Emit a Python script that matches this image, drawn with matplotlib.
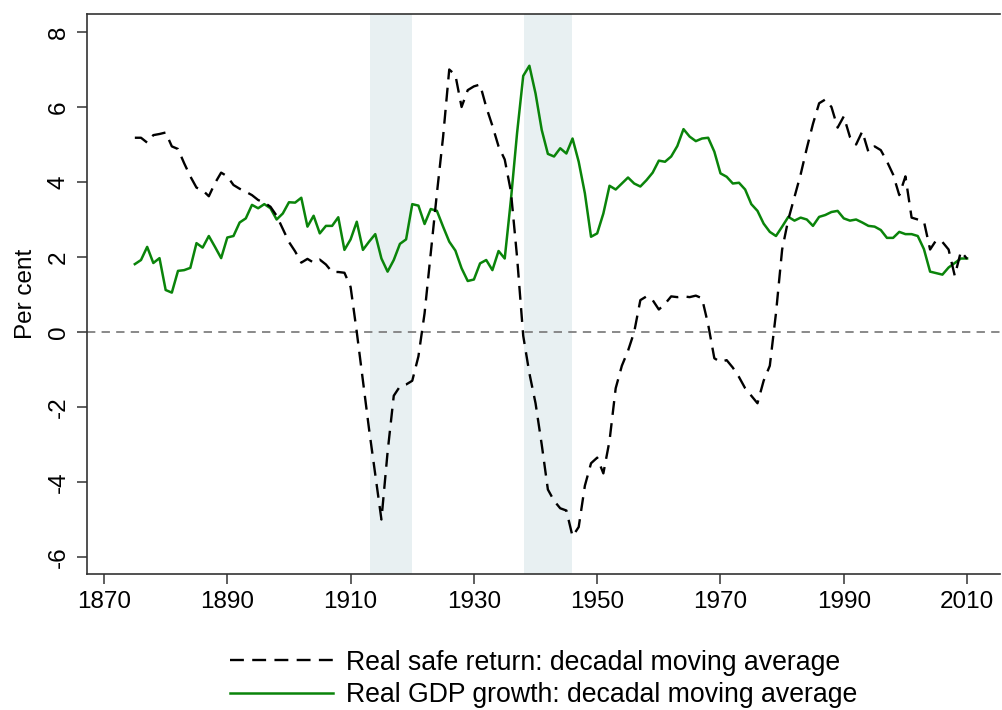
import matplotlib
matplotlib.use('Agg')
from matplotlib import pyplot as plt
import numpy as np

plt.rcParams['font.family'] = ['Liberation Sans', 'DejaVu Sans']
plt.rcParams['axes.unicode_minus'] = False
plt.rcParams['lines.scale_dashes'] = False

years = list(range(1875, 2011))

# real safe return, decadal moving average (per cent)
safe_return = [5.18, 5.18, 5.05, 5.25, 5.28, 5.32, 4.95, 4.88, 4.5, 4.15,
               3.85, 3.78, 3.62, 3.97, 4.25, 4.15, 3.92, 3.82, 3.74, 3.65,
               3.52, 3.45, 3.34, 3.1, 2.75, 2.4, 2.15, 1.85, 1.95, 1.85,
               1.93, 1.8, 1.6, 1.6, 1.58, 1.2, 0.0, -1.3, -2.6, -3.8,
               -5.0, -3.2, -1.7, -1.45, -1.4, -1.3, -0.65, 0.5, 2.1, 3.7,
               5.2, 7.0, 6.85, 6.0, 6.45, 6.55, 6.6, 6.0, 5.5, 4.95,
               4.6, 3.75, 2.0, -0.1, -1.1, -1.9, -3.0, -4.2, -4.5, -4.7,
               -4.76, -5.45, -5.2, -4.1, -3.5, -3.35, -3.77, -2.9, -1.5, -0.9,
               -0.5, 0.0, 0.85, 0.95, 0.85, 0.6, 0.75, 0.95, 0.93, 0.95,
               0.93, 0.97, 0.9, 0.2, -0.7, -0.8, -0.75, -0.95, -1.2, -1.5,
               -1.7, -1.9, -1.3, -0.9, 0.5, 2.2, 3.0, 3.6, 4.2, 4.9,
               5.55, 6.1, 6.2, 6.0, 5.45, 5.75, 5.2, 5.0, 5.35, 4.8,
               4.95, 4.85, 4.55, 4.2, 3.65, 4.15, 3.05, 3.0, 2.95, 2.2,
               2.45, 2.4, 2.2, 1.5, 2.15, 1.95]

# real GDP growth, decadal moving average (per cent)
gdp_growth = [1.81, 1.92, 2.27, 1.84, 1.97, 1.12, 1.05, 1.63, 1.65, 1.71,
              2.37, 2.25, 2.56, 2.27, 1.97, 2.52, 2.56, 2.92, 3.03, 3.39,
              3.30, 3.41, 3.30, 3.0, 3.16, 3.46, 3.45, 3.58, 2.81, 3.10,
              2.63, 2.83, 2.83, 3.06, 2.19, 2.47, 2.94, 2.19, 2.41, 2.61,
              1.96, 1.61, 1.92, 2.35, 2.47, 3.41, 3.37, 2.88, 3.28, 3.23,
              2.81, 2.41, 2.17, 1.70, 1.36, 1.40, 1.83, 1.92, 1.65, 2.16,
              1.96, 3.52, 5.30, 6.83, 7.10, 6.36, 5.39, 4.75, 4.68, 4.90,
              4.76, 5.16, 4.54, 3.70, 2.54, 2.63, 3.16, 3.90, 3.80, 3.96,
              4.12, 3.96, 3.88, 4.05, 4.25, 4.57, 4.54, 4.68, 4.96, 5.41,
              5.21, 5.09, 5.16, 5.18, 4.81, 4.23, 4.14, 3.96, 3.98, 3.80,
              3.41, 3.23, 2.89, 2.67, 2.56, 2.81, 3.07, 2.97, 3.05, 3.00,
              2.83, 3.07, 3.12, 3.20, 3.23, 3.03, 2.97, 3.0, 2.92, 2.83,
              2.81, 2.72, 2.51, 2.51, 2.67, 2.61, 2.61, 2.56, 2.21, 1.61,
              1.57, 1.53, 1.72, 1.84, 1.96, 1.96]

wars = [(1913.1, 1920.0), (1938.1, 1945.9)]

xticks = [1870, 1890, 1910, 1930, 1950, 1970, 1990, 2010]
yticks = [-6, -4, -2, 0, 2, 4, 6, 8]

fig = plt.figure(figsize=(10.02, 7.10), dpi=100)
ax = fig.add_axes([87/1002, 136/710, 913/1002, 560/710])

for a, b in wars:
    ax.axvspan(a, b, color='#e8f0f2', lw=0, zorder=0)

ax.axhline(0, color='#808080', lw=1.3, dashes=(6, 4.5), zorder=1)

ax.plot(years, safe_return, color='black', lw=1.7, dashes=(10, 6),
        label='Real safe return: decadal moving average', zorder=3)
ax.plot(years, gdp_growth, color='#0a840a', lw=1.8,
        label='Real GDP growth: decadal moving average', zorder=2)

ax.set_xlim(1867.24, 2015.34)
ax.set_ylim(-6.453, 8.48)
ax.set_xticks(xticks)
ax.set_yticks(yticks)
ax.set_yticklabels([str(t) for t in yticks], rotation=90, va='center')
ax.tick_params(labelsize=17.5, length=7.5, width=1.1, color='#333333', pad=5)
ax.set_ylabel('Per cent', fontsize=17.5, labelpad=8)

for s in ['left', 'bottom', 'top']:
    ax.spines[s].set_color('#333333')
    ax.spines[s].set_linewidth(1.2)
ax.spines['right'].set_visible(False)

ax.legend(loc='center', bbox_to_anchor=(0.5, -0.1875), frameon=False,
          fontsize=19.2, handlelength=3.85, handletextpad=0.5, labelspacing=0.25,
          borderpad=0)

fig.savefig('out.png', dpi=100)
